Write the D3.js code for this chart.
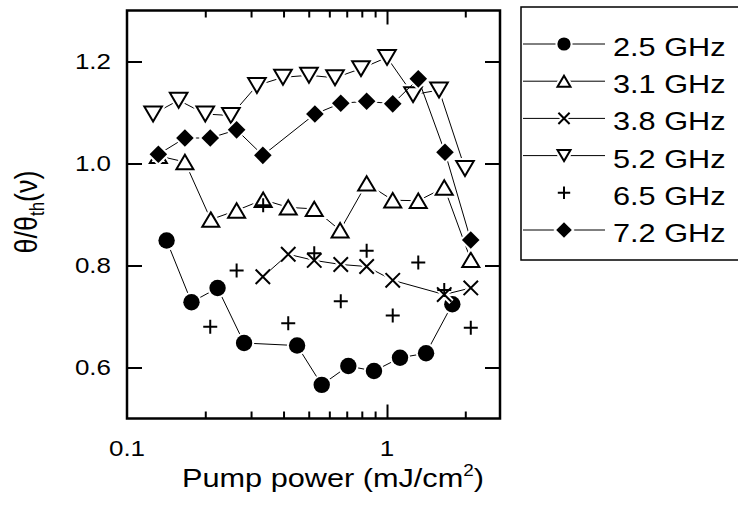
<!DOCTYPE html>
<html><head><meta charset="utf-8">
<script src="https://cdn.jsdelivr.net/npm/d3@7"></script>
<style>
body{margin:0;background:#fff}
svg{display:block}
text{font-family:"Liberation Sans",Arial,Helvetica,sans-serif;fill:#000}
</style>
</head><body>
<svg id="c" width="738" height="505"></svg>
<script>
// ---- data ----
const categories = ["2.5 GHz","3.1 GHz","3.8 GHz","5.2 GHz","6.5 GHz","7.2 GHz"];

const x25 = [0.142,0.177,0.223,0.282,0.451,0.561,0.710,0.891,1.122,1.413,1.783];
const y25 = [0.849,0.728,0.756,0.648,0.643,0.566,0.603,0.593,0.619,0.628,0.724];

const x31 = [0.132,0.167,0.210,0.264,0.334,0.417,0.525,0.660,0.835,1.052,1.319,1.660,2.100];
const y31 = [1.015,1.003,0.890,0.908,0.929,0.914,0.911,0.869,0.961,0.928,0.927,0.953,0.811];

const x38 = [0.333,0.417,0.525,0.664,0.835,1.052,1.660,2.100];
const y38 = [0.778,0.822,0.810,0.802,0.798,0.771,0.743,0.756];

const x52 = [0.126,0.158,0.200,0.251,0.316,0.398,0.501,0.631,0.794,1.000,1.259,1.585,1.995];
const y52 = [1.097,1.124,1.097,1.094,1.153,1.169,1.173,1.168,1.186,1.208,1.135,1.144,0.990];

const x65 = [0.209,0.264,0.334,0.417,0.525,0.664,0.835,1.052,1.319,1.660,2.100];
const y65 = [0.680,0.790,0.918,0.687,0.824,0.730,0.829,0.702,0.806,0.752,0.678];

const x72 = [0.132,0.167,0.209,0.264,0.333,0.528,0.664,0.835,1.052,1.319,1.671,2.099];
const y72 = [1.018,1.050,1.050,1.066,1.016,1.097,1.118,1.122,1.117,1.166,1.022,0.850];

const yTicks = [0.6,0.8,1.0,1.2];
const yTickLabels = ["0.6","0.8","1.0","1.2"];
const xMinorTicks = [0.2,0.3,0.4,0.5,0.6,0.7,0.8,0.9,2];
const xMajorTicks = [1];
const xTickLabels = [[0.1,"0.1"],[1,"1"]];

// ---- layout ----
const L=127, R=500, T=10.5, B=418.5;
const SX = 1.18;
const svg = d3.select("#c");
const x = d3.scaleLog().domain([0.1, 2.72]).range([L, R]);
const y = d3.scaleLinear().domain([0.5, 1.3]).range([B, T]);

// marker shapes
function shapePath(kind, s){
  switch(kind){
    case "circle": return `M${s},0A${s},${s} 0 1,1 ${-s},0A${s},${s} 0 1,1 ${s},0Z`;
    case "up": { const w=s, h=s*0.85; return `M0,${-h}L${w},${h}L${-w},${h}Z`; }
    case "down": { const w=s, h=s*0.85; return `M0,${h}L${w},${-h}L${-w},${-h}Z`; }
    case "x": return `M${-s},${-s}L${s},${s}M${-s},${s}L${s},${-s}`;
    case "plus": return `M${-s},0L${s},0M0,${-s}L0,${s}`;
    case "diamond": return `M0,${-s}L${s},0L0,${s}L${-s},0Z`;
  }
}
const styles = {
  circle:{fill:"#000", stroke:"none", sw:0},
  up:{fill:"#fff", stroke:"#000", sw:2},
  down:{fill:"#fff", stroke:"#000", sw:2},
  x:{fill:"none", stroke:"#000", sw:2},
  plus:{fill:"none", stroke:"#000", sw:2},
  diamond:{fill:"#000", stroke:"none", sw:0}
};

const series = [
  {name:categories[0], xs:x25, ys:y25, kind:"circle", size:8.2, lsize:6.6, line:true},
  {name:categories[1], xs:x31, ys:y31, kind:"up", size:8.5, lsize:6.5, line:true},
  {name:categories[2], xs:x38, ys:y38, kind:"x", size:7.2, lsize:5.6, line:true},
  {name:categories[3], xs:x52, ys:y52, kind:"down", size:8.8, lsize:6.5, line:true},
  {name:categories[4], xs:x65, ys:y65, kind:"plus", size:7, lsize:6.2, line:false},
  {name:categories[5], xs:x72, ys:y72, kind:"diamond", size:8.8, lsize:7.8, line:true}
];

function drawMarker(g, kind, s, halo){
  const st = styles[kind];
  if(halo){
    g.append("path").attr("d", shapePath(kind,s))
      .attr("fill","#fff").attr("stroke","#fff").attr("stroke-width", st.sw + 4);
  }
  g.append("path").attr("d", shapePath(kind,s))
    .attr("fill", st.fill).attr("stroke", st.stroke).attr("stroke-width", st.sw)
    .attr("stroke-linecap","butt");
}

// ---- axes (inward ticks) ----
function styleAxis(g){ g.select(".domain").remove(); g.selectAll("line").attr("stroke","#000").attr("stroke-width",2); g.selectAll("text").remove(); }
svg.append("g").attr("transform",`translate(0,${B})`).call(d3.axisBottom(x).tickValues(xMinorTicks).tickSize(-7)).call(styleAxis);
svg.append("g").attr("transform",`translate(0,${B})`).call(d3.axisBottom(x).tickValues(xMajorTicks).tickSize(-14)).call(styleAxis);
svg.append("g").attr("transform",`translate(0,${T})`).call(d3.axisTop(x).tickValues(xMinorTicks).tickSize(-7)).call(styleAxis);
svg.append("g").attr("transform",`translate(0,${T})`).call(d3.axisTop(x).tickValues(xMajorTicks).tickSize(-14)).call(styleAxis);
svg.append("g").attr("transform",`translate(${L},0)`).call(d3.axisLeft(y).tickValues(yTicks).tickSize(-15)).call(styleAxis);
svg.append("g").attr("transform",`translate(${R},0)`).call(d3.axisRight(y).tickValues(yTicks).tickSize(-15)).call(styleAxis);

svg.append("rect").attr("x",L).attr("y",T).attr("width",R-L).attr("height",B-T)
  .attr("fill","none").attr("stroke","#000").attr("stroke-width",2.5);

function txt(g, px, py, str, size, anchor){
  return g.append("text").attr("transform",`translate(${px},${py}) scale(${SX},1)`)
    .attr("font-size",size).attr("text-anchor",anchor).text(str);
}
yTicks.forEach((v,i)=> txt(svg, 111, y(v)+7.8, yTickLabels[i], 22, "end"));
xTickLabels.forEach(([v,s])=> txt(svg, x(v), 456, s, 22, "middle"));

// axis titles
const xt = svg.append("text").attr("transform",`translate(333,487) scale(${SX},1)`)
  .attr("font-size",26).attr("text-anchor","middle");
xt.append("tspan").text("Pump power (mJ/cm");
xt.append("tspan").attr("font-size",16).attr("dy",-11).text("2");
xt.append("tspan").attr("dy",11).text(")");

const yt = svg.append("text").attr("transform",`translate(37,212) rotate(-90) scale(1,${SX})`)
  .attr("font-size",27).attr("text-anchor","middle");
yt.append("tspan").text("θ/θ");
yt.append("tspan").attr("font-size",17).attr("dy",6).text("th");
yt.append("tspan").attr("dy",-6).text("(ν)");

// ---- series ----
const lineGen = d3.line().x(d=>x(d[0])).y(d=>y(d[1]));
series.forEach(s=>{
  const pts = s.xs.map((v,i)=>[v, s.ys[i]]);
  const g = svg.append("g");
  if(s.line){
    g.append("path").attr("d", lineGen(pts)).attr("fill","none").attr("stroke","#000").attr("stroke-width",1);
  }
  pts.forEach(p=>{
    const mg = g.append("g").attr("transform",`translate(${x(p[0])},${y(p[1])})`);
    drawMarker(mg, s.kind, s.size, s.line);
  });
});

// ---- legend ----
const lg = svg.append("g");
lg.append("rect").attr("x",521).attr("y",7).attr("width",230).attr("height",253)
  .attr("fill","#fff").attr("stroke","#000").attr("stroke-width",1.5);
series.forEach((s,i)=>{
  const ry = 44 + i*37.2;
  if(s.line){
    lg.append("line").attr("x1",523).attr("x2",605).attr("y1",ry).attr("y2",ry)
      .attr("stroke","#000").attr("stroke-width",1);
  }
  const mg = lg.append("g").attr("transform",`translate(564,${ry})`);
  drawMarker(mg, s.kind, s.lsize, s.line);
  txt(lg, 613, ry+12, s.name, 26, "start");
});
</script>
</body></html>
